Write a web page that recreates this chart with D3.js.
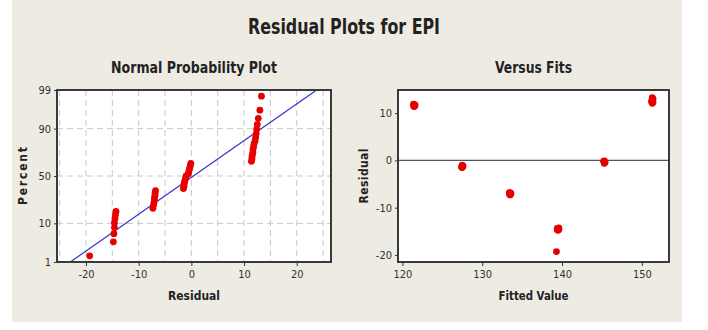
<!DOCTYPE html>
<html>
<head>
<meta charset="utf-8">
<script src="https://cdn.jsdelivr.net/npm/d3@7"></script>
<style>
  body { margin: 0; background: #fff; }
  text { font-family: "DejaVu Sans Condensed", "DejaVu Sans", sans-serif; }
</style>
</head>
<body>
<div id="chart"></div>
<script>
// residuals, in order of size (normal probability plot)
var residuals = [
  -19.3,
  -14.8, -14.7, -14.6, -14.6, -14.5, -14.4, -14.3,
  -7.3, -7.2, -7.1, -7.0, -7.0, -6.9, -6.9, -6.8,
  -1.5, -1.4, -1.4, -1.3, -1.2, -1.1, -1.0,
  -0.6, -0.5, -0.4, -0.3, -0.2, -0.1,
  11.4, 11.5, 11.5, 11.6, 11.7, 11.7, 11.8, 11.9,
  12.1, 12.2, 12.3, 12.4, 12.5, 12.7, 13.0, 13.3
];
// fitted values for the same observations
var fits = [
  139.3,
  139.5, 139.4, 139.5, 139.6, 139.5, 139.4, 139.6,
  133.5, 133.5, 133.4, 133.5, 133.6, 133.5, 133.5, 133.4,
  127.5, 127.5, 127.4, 127.5, 127.6, 127.5, 127.5,
  145.3, 145.3, 145.4, 145.3, 145.2, 145.3,
  121.5, 121.5, 121.4, 121.5, 121.6, 121.5, 121.5, 121.4,
  151.3, 151.3, 151.4, 151.3, 151.2, 151.3, 151.4, 151.3
];
var pctTicks = [1, 10, 50, 90, 99];
var resTicks = [-20, -10, 0, 10, 20];
var fitTicks = [120, 130, 140, 150];
var vfResTicks = [-20, -10, 0, 10];
var fitLine = { mean: 0.4, sd: 10.05 };

var W = 708, H = 330;
var svg = d3.select('#chart').append('svg').attr('width', W).attr('height', H);

svg.append('rect').attr('x', 12).attr('y', 0).attr('width', 670).attr('height', 322).attr('fill', '#eeebe3');

svg.append('text').attr('x', 344).attr('y', 34).attr('text-anchor', 'middle')
  .attr('font-size', 21).attr('font-weight', 'bold').attr('fill', '#222')
  .attr('textLength', 192).attr('lengthAdjust', 'spacingAndGlyphs').text('Residual Plots for EPI');

// inverse normal (Acklam)
function qnorm(p) {
  var a = [-3.969683028665376e+01, 2.209460984245205e+02, -2.759285104469687e+02, 1.383577518672690e+02, -3.066479806614716e+01, 2.506628277459239e+00];
  var b = [-5.447609879822406e+01, 1.615858368580409e+02, -1.556989798598866e+02, 6.680131188771972e+01, -1.328068155288572e+01];
  var c = [-7.784894002430293e-03, -3.223964580411365e-01, -2.400758277161838e+00, -2.549671035506588e+00, 4.374664141464968e+00, 2.938163982698783e+00];
  var d = [7.784695709041462e-03, 3.224671290700398e-01, 2.445134137142996e+00, 3.754408661907416e+00];
  var q, r;
  if (p < 0.02425) {
    q = Math.sqrt(-2 * Math.log(p));
    return (((((c[0]*q+c[1])*q+c[2])*q+c[3])*q+c[4])*q+c[5]) / ((((d[0]*q+d[1])*q+d[2])*q+d[3])*q+1);
  } else if (p <= 1 - 0.02425) {
    q = p - 0.5; r = q * q;
    return (((((a[0]*r+a[1])*r+a[2])*r+a[3])*r+a[4])*r+a[5])*q / (((((b[0]*r+b[1])*r+b[2])*r+b[3])*r+b[4])*r+1);
  } else {
    q = Math.sqrt(-2 * Math.log(1 - p));
    return -(((((c[0]*q+c[1])*q+c[2])*q+c[3])*q+c[4])*q+c[5]) / ((((d[0]*q+d[1])*q+d[2])*q+d[3])*q+1);
  }
}

function panel(x0, y0, w, h, title, tlen, xlab, xlen, ylab, ylen) {
  var g = svg.append('g').attr('transform', 'translate(' + x0 + ',' + y0 + ')');
  g.append('rect').attr('width', w).attr('height', h).attr('fill', '#fff');
  svg.append('text').attr('x', x0 + w / 2).attr('y', y0 - 17).attr('text-anchor', 'middle')
    .attr('font-size', 16).attr('font-weight', 'bold').attr('fill', '#222')
    .attr('textLength', tlen).attr('lengthAdjust', 'spacingAndGlyphs').text(title);
  svg.append('text').attr('x', x0 + w / 2).attr('y', y0 + h + 38).attr('text-anchor', 'middle')
    .attr('font-size', 13).attr('font-weight', 'bold').attr('fill', '#222')
    .attr('textLength', xlen).attr('lengthAdjust', 'spacingAndGlyphs').text(xlab);
  svg.append('text').attr('transform', 'translate(' + (x0 - 30) + ',' + (y0 + h / 2) + ') rotate(-90)')
    .attr('text-anchor', 'middle').attr('font-size', 12).attr('font-weight', 'bold')
    .attr('textLength', ylen).attr('lengthAdjust', 'spacing').attr('fill', '#222').text(ylab);
  return g;
}

function styleAxis(a) {
  a.select('.domain').remove();
  a.selectAll('line').attr('stroke', '#333');
  a.selectAll('text').attr('font-size', 11).attr('fill', '#333');
}

// ---- normal probability plot
var L = { x: 57, y: 90, w: 274, h: 172 };
var g1 = panel(L.x, L.y, L.w, L.h, 'Normal Probability Plot', 166, 'Residual', 52, 'Percent', 58);
var x1 = d3.scaleLinear().domain([-25.5, 26.5]).range([0, L.w]);
var zmax = qnorm(0.99);
var y1 = d3.scaleLinear().domain([-zmax, zmax]).range([L.h, 0]);

g1.selectAll('.vg').data(d3.range(-25, 26, 5)).enter().append('line')
  .attr('x1', function (d) { return x1(d); }).attr('x2', function (d) { return x1(d); })
  .attr('y1', 0).attr('y2', L.h).attr('stroke', '#c8c8c8').attr('stroke-dasharray', '6,4');
g1.selectAll('.hg').data([10, 50, 90]).enter().append('line')
  .attr('x1', 0).attr('x2', L.w)
  .attr('y1', function (d) { return y1(qnorm(d / 100)); }).attr('y2', function (d) { return y1(qnorm(d / 100)); })
  .attr('stroke', '#c8c8c8').attr('stroke-dasharray', '6,4');

// fitted line, from 1% to 99%
var lx0 = fitLine.mean - zmax * fitLine.sd, lx1 = fitLine.mean + zmax * fitLine.sd;
g1.append('line').attr('x1', x1(lx0)).attr('y1', y1(-zmax)).attr('x2', x1(lx1)).attr('y2', y1(zmax))
  .attr('stroke', '#3535c8').attr('stroke-width', 1.2);

var n = residuals.length;
g1.selectAll('.pt').data(residuals).enter().append('circle')
  .attr('cx', function (d) { return x1(d); })
  .attr('cy', function (d, i) { return y1(qnorm((i + 1 - 0.3) / (n + 0.4))); })
  .attr('r', 3.4).attr('fill', '#e80000');

g1.append('rect').attr('width', L.w).attr('height', L.h).attr('fill', 'none').attr('stroke', '#3a3a3a').attr('stroke-width', 2);

var ax1 = g1.append('g').attr('transform', 'translate(0,' + L.h + ')')
  .call(d3.axisBottom(x1).tickValues(resTicks).tickFormat(String).tickSize(4).tickPadding(4));
styleAxis(ax1);
var ay1 = g1.append('g')
  .call(d3.axisLeft(y1).tickValues(pctTicks.map(function (p) { return qnorm(p / 100); }))
    .tickFormat(function (d, i) { return pctTicks[i]; }).tickSize(3).tickPadding(3));
styleAxis(ay1);

// ---- versus fits
var R = { x: 398, y: 90, w: 271, h: 172 };
var g2 = panel(R.x, R.y, R.w, R.h, 'Versus Fits', 77, 'Fitted Value', 70, 'Residual', 55);
var x2 = d3.scaleLinear().domain([119.45, 153.4]).range([0, R.w]);
var y2 = d3.scaleLinear().domain([-21.5, 14.9]).range([R.h, 0]);

g2.append('line').attr('x1', 0).attr('x2', R.w).attr('y1', y2(0)).attr('y2', y2(0))
  .attr('stroke', '#555').attr('stroke-width', 1.2);
g2.selectAll('.pt').data(residuals).enter().append('circle')
  .attr('cx', function (d, i) { return x2(fits[i]); })
  .attr('cy', function (d) { return y2(d); })
  .attr('r', 3.4).attr('fill', '#e80000');
g2.append('rect').attr('width', R.w).attr('height', R.h).attr('fill', 'none').attr('stroke', '#3a3a3a').attr('stroke-width', 2);

var ax2 = g2.append('g').attr('transform', 'translate(0,' + R.h + ')')
  .call(d3.axisBottom(x2).tickValues(fitTicks).tickSize(4).tickPadding(4));
styleAxis(ax2);
var ay2 = g2.append('g').call(d3.axisLeft(y2).tickValues(vfResTicks).tickFormat(String).tickSize(3).tickPadding(3));
styleAxis(ay2);
</script>
</body>
</html>
